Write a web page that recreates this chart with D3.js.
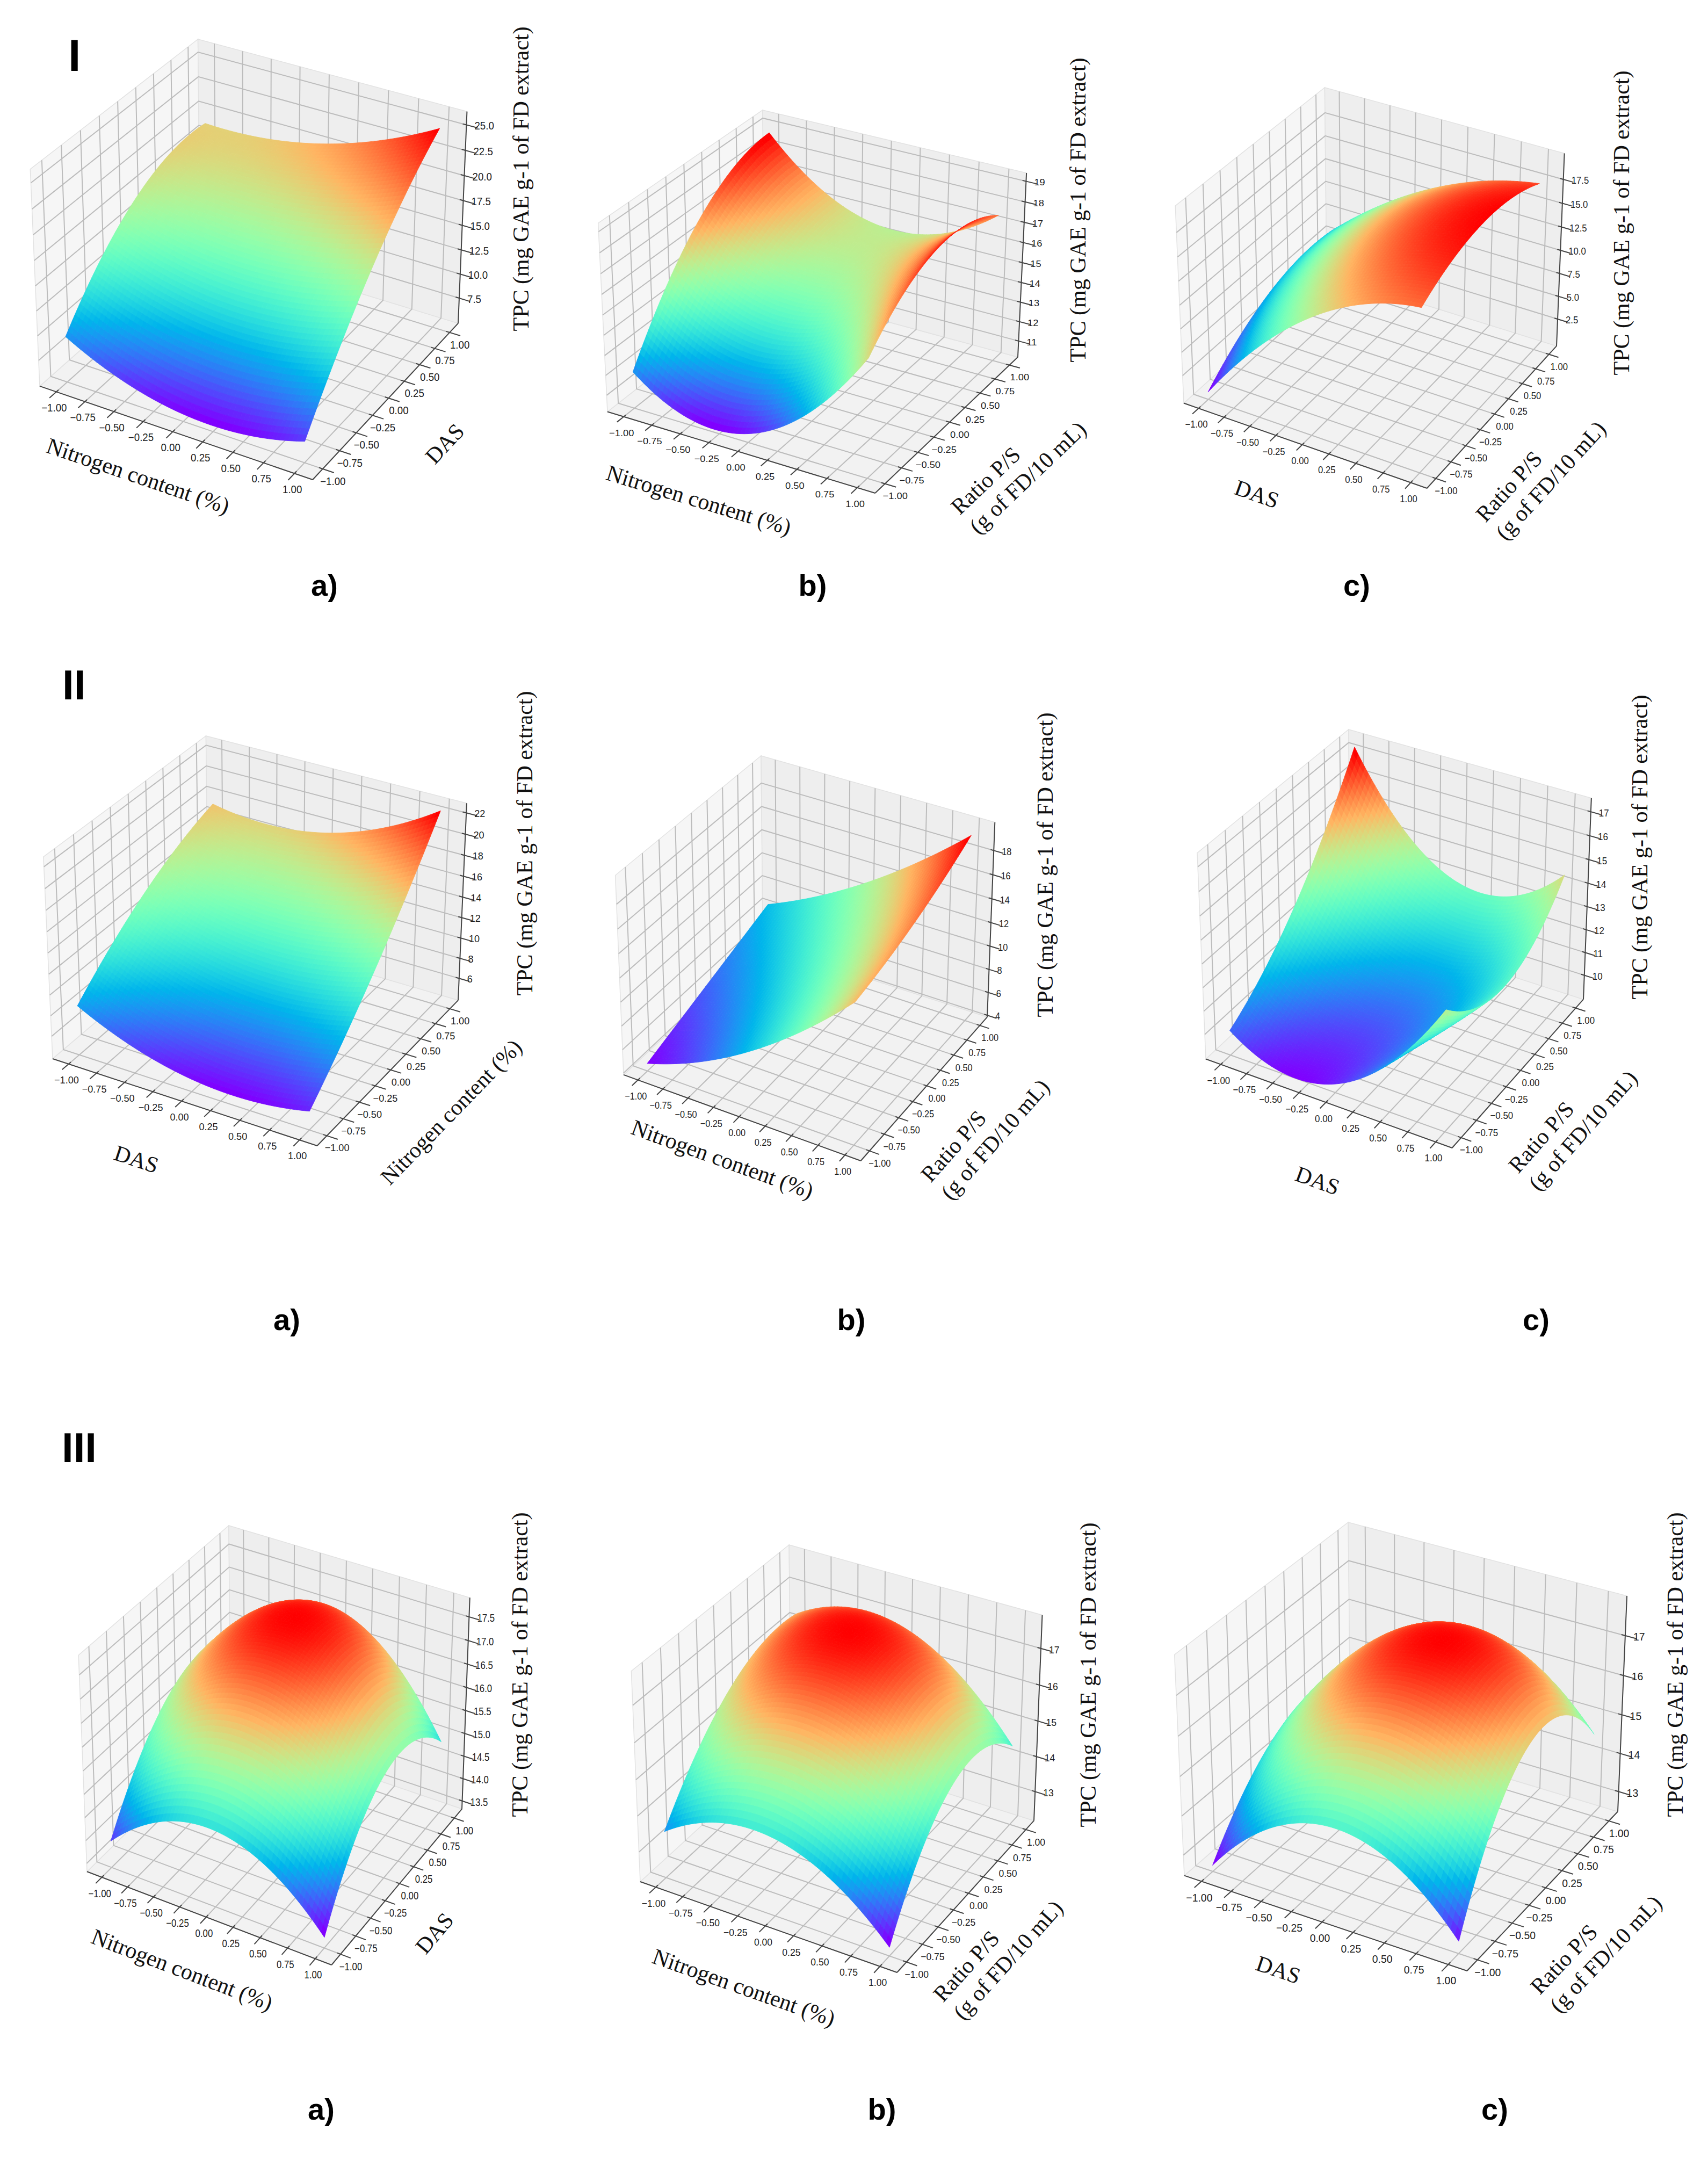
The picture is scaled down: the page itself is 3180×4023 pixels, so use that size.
<!DOCTYPE html>
<html><head><meta charset="utf-8"><title>TPC response surfaces</title>
<script src="https://cdn.jsdelivr.net/npm/d3@7/dist/d3.min.js"></script>
<style>html,body{margin:0;padding:0;background:#fff}svg{display:block}</style>
</head><body>
<svg id="chart" width="3180" height="4023" viewBox="0 0 3180 4023"></svg>
<script>
// ---------------- DATA ----------------
// coded factor levels used on the two horizontal axes
const codedTicks = [-1, -0.75, -0.5, -0.25, 0, 0.25, 0.5, 0.75, 1];
const codedLevels = [-1, 0, 1];

// TPC axis ticks per panel
const zTicksIa = [7.5, 10, 12.5, 15, 17.5, 20, 22.5, 25];
const zTicksIb = [11, 12, 13, 14, 15, 16, 17, 18, 19];
const zTicksIc = [2.5, 5, 7.5, 10, 12.5, 15, 17.5];
const zTicksIIa = [6, 8, 10, 12, 14, 16, 18, 20, 22];
const zTicksIIb = [4, 6, 8, 10, 12, 14, 16, 18];
const zTicksIIc = [10, 11, 12, 13, 14, 15, 16, 17];
const zTicksIIIa = [13.5, 14, 14.5, 15, 15.5, 16, 16.5, 17, 17.5];
const zTicksIIIb = [13, 14, 15, 16, 17];
const zTicksIIIc = [13, 14, 15, 16, 17];

// TPC (mg GAE g-1 of FD extract) read at coded levels -1, 0, 1
// rows: first factor (front-left axis), columns: second factor (front-right axis)
const tpcIa   = [[9.5, 17.3, 19.0], [5.6, 15.5, 20.2], [7.0, 17.8, 25.0]];
const tpcIb   = [[12.0, 17.1, 18.8], [10.6, 14.7, 15.5], [16.0, 18.4, 17.5]];
const tpcIc   = [[0.3, 5.1, 5.8], [11.9, 14.8, 13.7], [16.5, 19.0, 17.4]];
const tpcIIa  = [[8.6, 14.2, 17.4], [5.0, 11.5, 17.5], [5.6, 13.2, 22.5]];
const tpcIIb  = [[4.5, 6.5, 8.5], [8.5, 10.5, 13.0], [15.5, 17.0, 19.5]];
const tpcIIc  = [[10.0, 12.7, 17.3], [9.3, 10.3, 12.8], [14.0, 12.4, 14.5]];
const tpcIIIa = [[13.9, 15.9, 15.8], [14.96, 17.3, 17.04], [13.55, 15.6, 14.9]];
const tpcIIIb = [[13.46, 15.8, 16.3], [14.3, 17.2, 16.8], [12.4, 15.1, 14.4]];
const tpcIIIc = [[12.63, 14.7, 14.5], [14.6, 17.2, 16.4], [12.78, 16.0, 14.6]];

// axis titles
const nameN = ["Nitrogen content (%)"];
const nameDAS = ["DAS"];
const nameRatio = ["Ratio P/S", "(g of FD/10 mL)"];
const nameTPC = "TPC (mg GAE g-1 of FD extract)";
const rowNames = ["I", "II", "III"];
const subNames = ["a)", "b)", "c)"];

// ---------------- LAYOUT ----------------
const panels = [
  {id:"Ia", x:nameN, y:nameDAS, zt:zTicksIa, zf:".1f", tpc:tpcIa, zBox:[4.86, 26.3],
   L:74, R:853, F:893, B:73, xl:[257,886], yl:[828,826], zl:[970,333]},
  {id:"Ib", x:nameN, y:nameRatio, zt:zTicksIb, zf:"d", tpc:tpcIb, zBox:[10.16, 19.4],
   L:1131, R:1895, F:918, B:205, xl:[1301,931], yl:[1787,960], zl:[2007,391]},
  {id:"Ic", x:nameDAS, y:nameRatio, zt:zTicksIc, zf:".1f", tpc:tpcIc, zBox:[-0.5, 20.2],
   L:2204, R:2898, F:909, B:163, xl:[2340,920], yl:[2766,974], zl:[3019,415]},
  {id:"IIa", x:nameDAS, y:nameN, zt:zTicksIIa, zf:"d", tpc:tpcIIa, zBox:[3.8, 22.9],
   L:98, R:853, F:2133, B:1370, xl:[254,2158], yl:[840,2070], zl:[977,1570]},
  {id:"IIb", x:nameN, y:nameRatio, zt:zTicksIIb, zf:"d", tpc:tpcIIb, zBox:[3.85, 20.3],
   L:1161, R:1838, F:2161, B:1407, xl:[1345,2158], yl:[1733,2203], zl:[1946,1610]},
  {id:"IIc", x:nameDAS, y:nameRatio, zt:zTicksIIc, zf:"d", tpc:tpcIIc, zBox:[8.93, 17.56],
   L:2245, R:2948, F:2137, B:1358, xl:[2453,2198], yl:[2827,2186], zl:[3053,1577]},
  {id:"IIIa", x:nameN, y:nameDAS, zt:zTicksIIIa, zf:".1f", tpc:tpcIIIa, zBox:[13.32, 17.9],
   L:162, R:860, F:3658, B:2840, xl:[339,3667], yl:[809,3599], zl:[968,3099]},
  {id:"IIIb", x:nameN, y:nameRatio, zt:zTicksIIIb, zf:"d", tpc:tpcIIIb, zBox:[12.16, 17.9],
   L:1192, R:1925, F:3672, B:2876, xl:[1385,3700], yl:[1756,3729], zl:[2026,3118]},
  {id:"IIIc", x:nameDAS, y:nameRatio, zt:zTicksIIIc, zf:"d", tpc:tpcIIIc, zBox:[12.47, 17.98],
   L:2205, R:3012, F:3669, B:2834, xl:[2380,3667], yl:[2867,3715], zl:[3119,3099]}
];
const rowLabelPos = [{x:127, y:132, s:84}, {x:116, y:1302, s:78}, {x:115, y:2722, s:78}];
const subLabelPos = [
  [[604,1109],[1513,1109],[2526,1109]],
  [[534,2476],[1585,2476],[2860,2476]],
  [[598,3946],[1642,3946],[2783,3946]]
];

// ---------------- PROJECTION (matplotlib-like, elev 30, azim -60) ----------------
const DEG = Math.PI / 180;
const elev = 30 * DEG, azim = -60 * DEG, DIST = 10;
const nV = [Math.cos(elev) * Math.cos(azim), Math.cos(elev) * Math.sin(azim), Math.sin(elev)];
const uV = [-Math.sin(azim), Math.cos(azim), 0];
const vV = [nV[1]*uV[2]-nV[2]*uV[1], nV[2]*uV[0]-nV[0]*uV[2], nV[0]*uV[1]-nV[1]*uV[0]];
const BOX = [4/3.5, 4/3.5, 3/3.5];
const XB = 1.1458; // half-width of the drawn box in coded units
const dot = (a, b) => a[0]*b[0] + a[1]*b[1] + a[2]*b[2];
function rawProj(p) {
  const w = DIST - dot(nV, p);
  return [dot(uV, p) / w, dot(vV, p) / w, w];
}

// matplotlib "rainbow" colormap
function rainbow(t) {
  const c = v => Math.max(0, Math.min(1, v));
  const r = c(Math.abs(2 * t - 0.5)), g = c(Math.sin(Math.PI * t)), b = c(Math.cos(Math.PI * t / 2));
  return d3.rgb(r * 255, g * 255, b * 255).toString();
}

const svg = d3.select("#chart");
svg.append("rect").attr("width", 3180).attr("height", 4023).attr("fill", "#fff");
const line = d3.line();
const tickFont = "'Liberation Sans', Arial, sans-serif";
const serif = "'Liberation Serif', 'Times New Roman', serif";

function drawPanel(p) {
  const g = svg.append("g").attr("class", "panel-" + p.id);
  const [z0, z1] = p.zBox;
  const xw = d3.scaleLinear().domain([-XB, XB]).range([-BOX[0]/2, BOX[0]/2]);
  const yw = d3.scaleLinear().domain([-XB, XB]).range([-BOX[1]/2, BOX[1]/2]);
  const zw = d3.scaleLinear().domain([z0, z1]).range([-BOX[2]/2, BOX[2]/2]);
  const raw = (x, y, z) => rawProj([xw(x), yw(y), zw(z)]);
  const XL = raw(-XB, -XB, z0)[0], XR = raw(XB, XB, z0)[0];
  const YF = raw(XB, -XB, z0)[1], YT = raw(-XB, XB, z1)[1];
  const sx = d3.scaleLinear().domain([XL, XR]).range([p.L, p.R]);
  const sy = d3.scaleLinear().domain([YF, YT]).range([p.F, p.B]);
  const kx = (p.R - p.L) / (XR - XL), ky = (p.F - p.B) / (YT - YF);
  const stretch = ky / kx;
  const fsTick = 0.00367 * kx;
  const P = (x, y, z) => { const r = raw(x, y, z); return [sx(r[0]), sy(r[1]), r[2]]; };
  const P2 = q => P(q[0], q[1], q[2]).slice(0, 2);

  // panes
  const panes = [
    {pts: [[-XB,-XB,z0],[XB,-XB,z0],[XB,XB,z0],[-XB,XB,z0]], fill: "#f2f2f2"},
    {pts: [[-XB,-XB,z0],[-XB,XB,z0],[-XB,XB,z1],[-XB,-XB,z1]], fill: "#f6f6f6"},
    {pts: [[-XB,XB,z0],[XB,XB,z0],[XB,XB,z1],[-XB,XB,z1]], fill: "#eeeeee"}
  ];
  g.append("g").selectAll("path").data(panes).join("path")
    .attr("d", d => line(d.pts.map(P2)) + "Z")
    .attr("fill", d => d.fill).attr("stroke", "#e2e2e2").attr("stroke-width", 1.5);

  // grid lines
  const grid = [];
  codedTicks.forEach(t => {
    grid.push([[t, -XB, z0], [t, XB, z0], [t, XB, z1]]);
    grid.push([[XB, t, z0], [-XB, t, z0], [-XB, t, z1]]);
  });
  p.zt.forEach(t => grid.push([[-XB, -XB, t], [-XB, XB, t], [XB, XB, t]]));
  g.append("g").selectAll("path").data(grid).join("path")
    .attr("d", d => line(d.map(P2)))
    .attr("fill", "none").attr("stroke", "#bcbcbc").attr("stroke-width", 2);

  // axis lines
  const axes = [
    [[-XB, -XB, z0], [XB, -XB, z0]],
    [[XB, -XB, z0], [XB, XB, z0]],
    [[XB, XB, z0], [XB, XB, z1]]
  ];
  g.append("g").selectAll("path").data(axes).join("path")
    .attr("d", d => line(d.map(P2))).attr("stroke", "#444").attr("stroke-width", 2).attr("fill", "none");

  // tick marks
  const ticks = [];
  codedTicks.forEach(t => {
    ticks.push([[t, -XB + 0.03, z0], [t, -XB - 0.09, z0]]);
    ticks.push([[XB - 0.03, t, z0], [XB + 0.09, t, z0]]);
  });
  p.zt.forEach(t => ticks.push([[XB - 0.03, XB, t], [XB + 0.09, XB, t]]));
  g.append("g").selectAll("path").data(ticks).join("path")
    .attr("d", d => line(d.map(P2))).attr("stroke", "#444").attr("stroke-width", 2);

  // tick labels
  const fmtC = d3.format(".2f");
  const minus = s => s.replace("-", "\u2212");
  const tl = g.append("g").attr("font-family", tickFont).attr("font-size", fsTick.toFixed(1)).attr("fill", "#1e1e1e");
  const place = (x, y) => `translate(${x.toFixed(1)},${y.toFixed(1)}) scale(1,${stretch.toFixed(3)})`;
  tl.selectAll("text.tx").data(codedTicks).join("text").attr("class", "tx")
    .attr("transform", t => { const q = P(t, -XB, z0); return place(q[0] - 4, q[1] + 30); })
    .attr("text-anchor", "middle").attr("dominant-baseline", "central").text(t => minus(fmtC(t)));
  tl.selectAll("text.ty").data(codedTicks).join("text").attr("class", "ty")
    .attr("transform", t => { const q = P(XB, t, z0); return place(q[0] + 19, q[1] + 23); })
    .attr("text-anchor", "middle").attr("dominant-baseline", "central").text(t => minus(fmtC(t)));
  const fz = d3.format(p.zf);
  tl.selectAll("text.tz").data(p.zt).join("text").attr("class", "tz")
    .attr("transform", t => { const q = P(XB, XB, t); return place(q[0] + 15, q[1] + 2); })
    .attr("text-anchor", "start").attr("dominant-baseline", "central").text(t => fz(t));

  // axis titles
  const pL = P(-XB, -XB, z0), pF = P(XB, -XB, z0), pR = P(XB, XB, z0);
  const angX = Math.atan2(pF[1] - pL[1], pF[0] - pL[0]) / DEG;
  const angY = Math.atan2(pR[1] - pF[1], pR[0] - pF[0]) / DEG;
  const lab = g.append("g").attr("font-family", serif).attr("font-size", 42).attr("fill", "#111");
  lab.append("text").attr("transform", `translate(${p.xl[0]},${p.xl[1]}) rotate(${angX.toFixed(2)})`)
    .attr("text-anchor", "middle").attr("dominant-baseline", "central").text(p.x[0]);
  if (p.y.length === 1) {
    lab.append("text").attr("transform", `translate(${p.yl[0]},${p.yl[1]}) rotate(${angY.toFixed(2)})`)
      .attr("text-anchor", "middle").attr("dominant-baseline", "central").text(p.y[0]);
  } else {
    const yg = lab.append("g").attr("transform", `translate(${p.yl[0]},${p.yl[1]}) rotate(${angY.toFixed(2)})`);
    yg.selectAll("text").data(p.y).join("text").attr("x", 0).attr("y", (d, i) => i * 50)
      .attr("text-anchor", "start").text(d => d);
  }
  lab.append("text").attr("transform", `translate(${p.zl[0]},${p.zl[1]}) rotate(-90)`)
    .attr("text-anchor", "middle").attr("dominant-baseline", "central").text(nameTPC);

  // surface (quadratic response surface through the 3x3 read values)
  const N = 60;
  const lag = t => [t * (t - 1) / 2, 1 - t * t, t * (t + 1) / 2];
  const tpcAt = (x, y) => {
    const a = lag(x), b = lag(y); let s = 0;
    for (let i = 0; i < 3; i++) for (let j = 0; j < 3; j++) s += p.tpc[i][j] * a[i] * b[j];
    return s;
  };
  const cx = d3.scaleLinear().domain([0, N]).range([codedLevels[0], codedLevels[2]]);
  const quads = [];
  for (let i = 0; i < N; i++) for (let j = 0; j < N; j++) {
    const cs = [[cx(i), cx(j)], [cx(i + 1), cx(j)], [cx(i + 1), cx(j + 1)], [cx(i), cx(j + 1)]];
    const pts = cs.map(c => P(c[0], c[1], tpcAt(c[0], c[1])));
    const zc = d3.mean(cs, c => tpcAt(c[0], c[1]));
    quads.push({pts: pts.map(q => q.slice(0, 2)), depth: d3.mean(pts, q => q[2]), zc});
  }
  const color = d3.scaleSequential(rainbow).domain(d3.extent(quads, d => d.zc));
  quads.sort((a, b) => b.depth - a.depth);
  g.append("g").selectAll("path").data(quads).join("path")
    .attr("d", d => line(d.pts) + "Z")
    .attr("fill", d => color(d.zc)).attr("stroke", d => color(d.zc)).attr("stroke-width", 0.9)
    .attr("stroke-linejoin", "round");
}

panels.forEach(drawPanel);

// row numerals and sub-figure letters
const labFont = "'Liberation Sans', Arial, sans-serif";
svg.append("g").selectAll("text").data(rowNames).join("text")
  .attr("x", (d, i) => rowLabelPos[i].x).attr("y", (d, i) => rowLabelPos[i].y)
  .attr("font-family", labFont).attr("font-weight", 700).attr("font-size", (d, i) => rowLabelPos[i].s)
  .attr("fill", "#000").text(d => d);
const subs = [];
subLabelPos.forEach((row, r) => row.forEach((pos, c) => subs.push({t: subNames[c], x: pos[0], y: pos[1]})));
svg.append("g").selectAll("text").data(subs).join("text")
  .attr("x", d => d.x).attr("y", d => d.y).attr("text-anchor", "middle")
  .attr("font-family", labFont).attr("font-weight", 700).attr("font-size", 56)
  .attr("fill", "#000").text(d => d.t);
</script></body></html>
